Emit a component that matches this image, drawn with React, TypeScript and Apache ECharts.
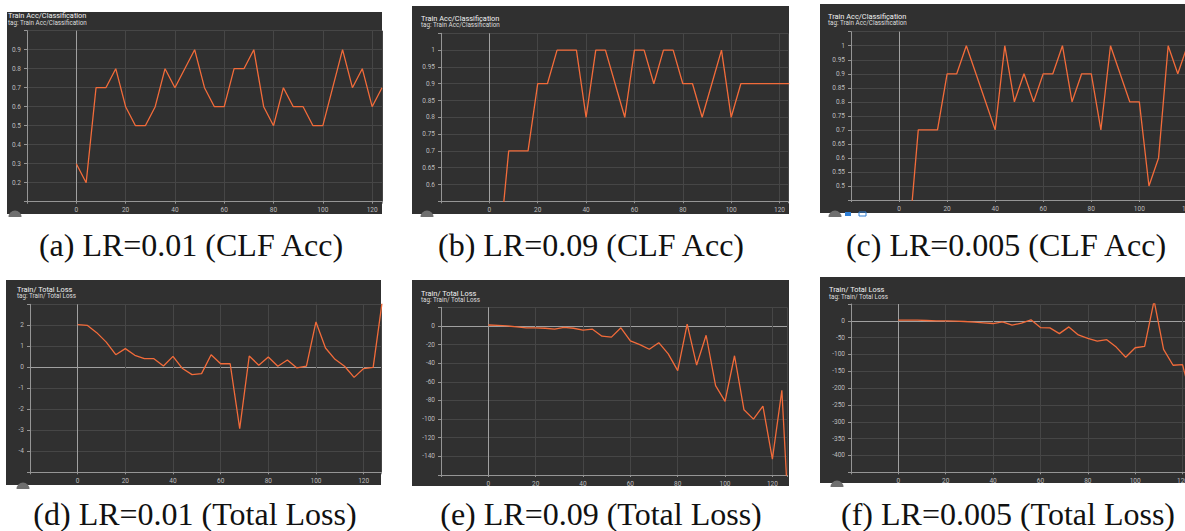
import React, { useEffect, useRef } from 'react';
import * as echarts from 'echarts';

// training steps (x values)
const steps = [0, 4, 8, 12, 16, 20, 24, 28, 32, 36, 40, 44, 48, 52, 56, 60, 64, 68, 72, 76, 80, 84, 88, 92, 96, 100, 104, 108, 112, 116, 120, 124, 128];

// (a) LR=0.01 accuracy
const accLr001 = [0.3, 0.2, 0.7, 0.7, 0.8, 0.6, 0.5, 0.5, 0.6, 0.8, 0.7, 0.8, 0.9, 0.7, 0.6, 0.6, 0.8, 0.8, 0.9, 0.6, 0.5, 0.7, 0.6, 0.6, 0.5, 0.5, 0.7, 0.9, 0.7, 0.8, 0.6, 0.7];
// (b) LR=0.09 accuracy
const accLr009 = [0.2, 0.4, 0.7, 0.7, 0.7, 0.9, 0.9, 1, 1, 1, 0.8, 1, 1, 0.9, 0.8, 1, 1, 0.9, 1, 1, 0.9, 0.9, 0.8, 0.9, 1, 0.8, 0.9, 0.9, 0.9, 0.9, 0.9, 0.9];
// (c) LR=0.005 accuracy
const accLr0005 = [0.3, 0.3, 0.7, 0.7, 0.7, 0.9, 0.9, 1, 0.9, 0.8, 0.7, 1, 0.8, 0.9, 0.8, 0.9, 0.9, 1, 0.8, 0.9, 0.9, 0.7, 1, 0.9, 0.8, 0.8, 0.5, 0.6, 1, 0.9, 1];
// (d) LR=0.01 total loss
const lossLr001 = [2.03, 2.0, 1.65, 1.2, 0.6, 0.89, 0.57, 0.41, 0.41, 0.06, 0.52, -0.06, -0.35, -0.3, 0.6, 0.17, 0.17, -2.92, 0.54, 0.1, 0.49, 0.05, 0.35, -0.03, 0.06, 2.16, 0.92, 0.38, 0.05, -0.48, -0.06, 0.0, 3.3];
// (e) LR=0.09 total loss
const lossLr009 = [1, 0.5, 0, -1, -2, -2, -2.5, -3.5, -1.5, -2.5, -4.5, -3.5, -11, -12, -2, -16, -20, -25, -18, -30, -48, 2, -42, -10, -64, -81, -32, -90, -100, -86, -143, -69, -260];
// (f) LR=0.005 total loss
const lossLr0005 = [2, 2, 2, 1, 0, 0, -1, -2, -4, -6, -8, -3, -13, -7, 3, -20, -21, -38, -18, -42, -52, -60, -56, -78, -108, -80, -76, 60, -85, -132, -130, -240];

const accTitle = 'Train Acc/Classification';
const lossTitle = 'Train/ Total Loss';

const captions = [
  '(a) LR=0.01 (CLF Acc)',
  '(b) LR=0.09 (CLF Acc)',
  '(c) LR=0.005 (CLF Acc)',
  '(d) LR=0.01 (Total Loss)',
  '(e) LR=0.09 (Total Loss)',
  '(f) LR=0.005 (Total Loss)',
];

const panels = [
  { values: accLr001, title: accTitle, yMin: 0.1, yMax: 1.0, yInt: 0.1, xMax: 124,
    rect: [7, 12, 375, 202], tx: 8, ty: 15, tagY: 23, grid: { left: 27, top: 30.7, width: 355, height: 171 },
    cap: [191, 245], icon: [15, 217] },
  { values: accLr009, title: accTitle, yMin: 0.55, yMax: 1.05, yInt: 0.05, xMax: 123.5,
    rect: [412, 6, 377, 208], tx: 421, ty: 18, tagY: 25, grid: { left: 441, top: 33.3, width: 347, height: 168 },
    cap: [591, 245], icon: [427, 217] },
  { values: accLr0005, title: accTitle, yMin: 0.45, yMax: 1.05, yInt: 0.05, xMax: 124,
    rect: [820, 4, 400, 209], tx: 828, ty: 16, tagY: 23, grid: { left: 851, top: 31.7, width: 346, height: 168.3 },
    cap: [1006, 245], icon: [835, 217] },
  { values: lossLr001, title: lossTitle, yMin: -5, yMax: 3, yInt: 1, xMax: 127.5,
    rect: [6, 280, 375, 205], tx: 17, ty: 289, tagY: 296, grid: { left: 30, top: 304.3, width: 351.5, height: 168 },
    cap: [195, 514], icon: [23, 489] },
  { values: lossLr009, title: lossTitle, yMin: -160, yMax: 20, yInt: 20, xMax: 126.3,
    rect: [412, 280, 377, 206], tx: 421, ty: 293, tagY: 299.5, grid: { left: 441, top: 307.3, width: 346.3, height: 167.7 },
    cap: [601, 514], icon: null },
  { values: lossLr0005, title: lossTitle, yMin: -450, yMax: 50, yInt: 50, xMax: 124,
    rect: [820, 277, 400, 206], tx: 829, ty: 289, tagY: 297, grid: { left: 851, top: 304, width: 341, height: 168.3 },
    cap: [1008, 514], icon: [837, 487] },
];

const BG = '#303030';
const GRID = '#464646';
const AXIS = '#959595';
const ZERO = '#a0a0a0';
const LABEL = '#bdbdbd';
const LINE = '#f26b3a';

function fmt(v: number) {
  return String(Number(v.toFixed(3)));
}

export default function App() {
  const ref = useRef<HTMLDivElement>(null);
  useEffect(() => {
    if (!ref.current) return;
    const chart = echarts.init(ref.current, undefined, { renderer: 'svg' });

    const grids: any[] = [];
    const xAxes: any[] = [];
    const yAxes: any[] = [];
    const series: any[] = [];
    const graphics: any[] = [];

    panels.forEach((p, i) => {
      grids.push({ ...p.grid, show: false });
      // x split-line colours: ticks -20, 0, 20, ... -> index 1 is the zero line
      const xColors = [GRID, ZERO, GRID, GRID, GRID, GRID, GRID, GRID, GRID, GRID, GRID];
      const nY = Math.round((p.yMax - p.yMin) / p.yInt) + 2;
      const zeroIdx = p.yMin < 0 && p.yMax > 0 ? Math.round((0 - p.yMin) / p.yInt) : -1;
      const yColors: string[] = [];
      for (let k = 0; k < nY; k++) yColors.push(k === zeroIdx ? ZERO : GRID);
      xAxes.push({
        type: 'value', gridIndex: i, min: -20, max: p.xMax, interval: 20,
        axisLine: { show: true, onZero: false, lineStyle: { color: AXIS, width: 1 } },
        axisTick: { show: true, length: 2, lineStyle: { color: AXIS } },
        axisLabel: {
          color: LABEL, fontSize: 6.5, fontFamily: 'Roboto', margin: 5,
          formatter: (v: number) => (v >= 0 && Math.abs(v % 20) < 1e-6 ? fmt(v) : ''),
        },
        splitLine: { show: true, lineStyle: { color: xColors, width: 1 } },
      });
      yAxes.push({
        type: 'value', gridIndex: i, min: p.yMin, max: p.yMax, interval: p.yInt,
        axisLine: { show: true, onZero: false, lineStyle: { color: AXIS, width: 1 } },
        axisTick: { show: true, length: 3, lineStyle: { color: AXIS } },
        axisLabel: {
          color: LABEL, fontSize: 6.5, fontFamily: 'Roboto', margin: 6,
          formatter: (v: number) =>
            Math.abs(v - p.yMin) < p.yInt / 10 || Math.abs(v - p.yMax) < p.yInt / 10 ? '' : fmt(v),
        },
        splitLine: { show: true, lineStyle: { color: yColors, width: 1 } },
      });
      series.push({
        type: 'line', xAxisIndex: i, yAxisIndex: i, clip: true, showSymbol: false, symbol: 'none',
        lineStyle: { color: LINE, width: 1.3 },
        data: p.values.map((v, k) => [steps[k], v]),
        z: 3,
      });

      graphics.push({
        type: 'rect', z: -10, silent: true,
        shape: { x: p.rect[0], y: p.rect[1], width: p.rect[2], height: p.rect[3] },
        style: { fill: BG },
      });
      graphics.push({
        type: 'text', z: 10, silent: true, x: p.tx, y: p.ty,
        style: { text: p.title, fill: '#f2f2f2', fontSize: 7.4, fontFamily: 'Roboto', textVerticalAlign: 'middle', verticalAlign: 'middle' },
      });
      graphics.push({
        type: 'text', z: 10, silent: true, x: p.tx, y: p.tagY,
        style: { text: 'tag: ' + p.title, fill: '#dedede', fontSize: 6.3, fontFamily: 'Roboto', textVerticalAlign: 'middle', verticalAlign: 'middle' },
      });
      graphics.push({
        type: 'text', z: 10, silent: true, x: p.cap[0], y: p.cap[1],
        style: {
          text: captions[i], fill: '#111', fontSize: 32, fontFamily: '"Liberation Serif", serif',
          textAlign: 'center', align: 'center', textVerticalAlign: 'middle', verticalAlign: 'middle',
        },
      });
      if (p.icon) {
        graphics.push({
          type: 'sector', z: 10, silent: true,
          shape: { cx: p.icon[0], cy: p.icon[1], r: 6.5, r0: 0, startAngle: Math.PI, endAngle: Math.PI * 2 },
          style: { fill: '#6f6f6f' },
        });
      }
    });
    // small blue buttons under panel (c)
    graphics.push({ type: 'rect', z: 10, silent: true, shape: { x: 845, y: 212, width: 6, height: 4 }, style: { fill: '#2f7fd6' } });
    graphics.push({ type: 'rect', z: 10, silent: true, shape: { x: 859, y: 212, width: 7, height: 4 }, style: { fill: 'none', stroke: '#2f7fd6', lineWidth: 1 } });

    chart.setOption({
      animation: false,
      backgroundColor: '#ffffff',
      grid: grids,
      xAxis: xAxes,
      yAxis: yAxes,
      series,
      graphic: { elements: graphics },
    });
    return () => chart.dispose();
  }, []);

  return (
    <div style={{ position: 'absolute', left: 0, top: 0, width: 1185, height: 531, overflow: 'hidden', background: '#fff' }}>
      <div ref={ref} style={{ width: 1240, height: 531 }} />
    </div>
  );
}
